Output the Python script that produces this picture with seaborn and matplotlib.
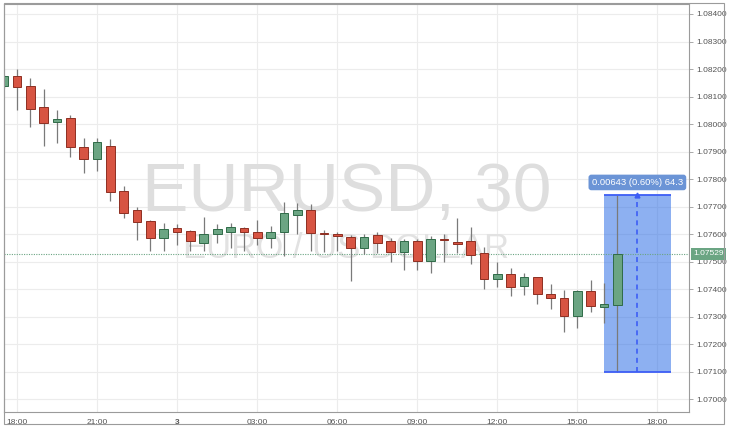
import numpy as np
import pandas as pd
import matplotlib
matplotlib.use("Agg")
import matplotlib.pyplot as plt
import matplotlib.transforms as mtransforms
from matplotlib.patches import Rectangle
import seaborn as sns

# ---------------- data (EURUSD, 30 min) ----------------
first_bar = "2017-01-02 17:30"
bar_minutes = 30
opens = [1.08139, 1.08175, 1.08137, 1.08061, 1.08009, 1.08021, 1.07916, 1.07874, 1.07920, 1.07757,
         1.07688, 1.07647, 1.07587, 1.07621, 1.07611, 1.07567, 1.07601, 1.07607, 1.07623, 1.07607,
         1.07587, 1.07607, 1.07670, 1.07688, 1.07601, 1.07602, 1.07589, 1.07551, 1.07597, 1.07575,
         1.07535, 1.07575, 1.07504, 1.07584, 1.07573, 1.07576, 1.07533, 1.07437, 1.07454, 1.07413,
         1.07443, 1.07383, 1.07367, 1.07303, 1.07394, 1.07335, 1.07343]
highs = [1.08180, 1.08200, 1.08166, 1.08127, 1.08051, 1.08033, 1.07948, 1.07948, 1.07946, 1.07775,
         1.07700, 1.07651, 1.07642, 1.07637, 1.07615, 1.07661, 1.07637, 1.07640, 1.07627, 1.07651,
         1.07630, 1.07716, 1.07712, 1.07710, 1.07615, 1.07609, 1.07597, 1.07600, 1.07609, 1.07585,
         1.07581, 1.07581, 1.07593, 1.07601, 1.07657, 1.07627, 1.07552, 1.07498, 1.07476, 1.07458,
         1.07445, 1.07419, 1.07397, 1.07397, 1.07433, 1.07421, 1.07743]
lows = [1.08130, 1.08051, 1.07990, 1.07920, 1.07930, 1.07881, 1.07821, 1.07830, 1.07721, 1.07660,
        1.07579, 1.07540, 1.07540, 1.07561, 1.07540, 1.07540, 1.07567, 1.07551, 1.07540, 1.07561,
        1.07549, 1.07521, 1.07600, 1.07539, 1.07536, 1.07539, 1.07430, 1.07527, 1.07530, 1.07500,
        1.07470, 1.07470, 1.07460, 1.07500, 1.07530, 1.07491, 1.07400, 1.07409, 1.07376, 1.07379,
        1.07345, 1.07327, 1.07246, 1.07258, 1.07316, 1.07276, 1.07100]
closes = [1.08175, 1.08136, 1.08056, 1.08005, 1.08018, 1.07916, 1.07874, 1.07935, 1.07754, 1.07678,
          1.07643, 1.07587, 1.07618, 1.07608, 1.07576, 1.07601, 1.07618, 1.07627, 1.07609, 1.07587,
          1.07609, 1.07676, 1.07688, 1.07605, 1.07600, 1.07593, 1.07551, 1.07591, 1.07569, 1.07535,
          1.07575, 1.07504, 1.07581, 1.07579, 1.07564, 1.07524, 1.07437, 1.07454, 1.07409, 1.07443,
          1.07381, 1.07369, 1.07303, 1.07394, 1.07339, 1.07346, 1.07529]

tick_times = ["2017-01-02 18:00", "2017-01-02 21:00", "2017-01-03 00:00", "2017-01-03 03:00",
              "2017-01-03 06:00", "2017-01-03 09:00", "2017-01-03 12:00", "2017-01-03 15:00",
              "2017-01-03 18:00"]
tick_labels = ["18:00", "21:00", "3", "03:00", "06:00", "09:00", "12:00", "15:00", "18:00"]
price_ticks = [1.07000, 1.07100, 1.07200, 1.07300, 1.07400, 1.07500, 1.07600, 1.07700,
               1.07800, 1.07900, 1.08000, 1.08100, 1.08200, 1.08300, 1.08400]

range_start = "2017-01-03 16:00"
range_end = "2017-01-03 18:30"
range_low = 1.07100
range_high = 1.07743
range_text = "0.00643 (0.60%) 64.3"
watermark_title = "EURUSD, 30"
watermark_sub = "EURO / US DOLLAR"

# ---------------- helpers ----------------
t0 = pd.Timestamp(first_bar)
def to_x(ts):
    return (pd.Timestamp(ts) - t0) / pd.Timedelta(minutes=bar_minutes)

o = np.array(opens); h = np.array(highs); l = np.array(lows); c = np.array(closes)
x = np.arange(len(o))
last_price = closes[-1]

UP, DOWN = "#6ba583", "#d75442"
UP_EDGE, DOWN_EDGE = "#2f6b48", "#8e2f22"
WICK = "#7a7a7a"
FRAME = "#9b9b9b"

sns.set_style("white")
plt.rcParams["font.family"] = ["Liberation Sans", "DejaVu Sans"]

W, H = 730, 429
fig = plt.figure(figsize=(W / 100, H / 100), dpi=100)
fig.patch.set_facecolor("white")
ax = fig.add_axes([4 / W, (H - 412) / H, (689 - 4) / W, (412 - 4) / H])

# outer frame around chart + axis panels
fig.patches.append(Rectangle((4 / W, 5 / H), 720 / W, 421 / H, transform=fig.transFigure,
                             fill=False, edgecolor=FRAME, lw=0.8, zorder=0))

ax.set_xlim(0.02, 51.37)
ax.set_ylim(1.069538, 1.084363)

# grid
ax.set_axisbelow(True)
ax.grid(True, color="#ececec", lw=0.8)

# watermark
ax.text(0.5, 0.4926, watermark_title, transform=ax.transAxes, ha="center", va="baseline",
        fontsize=50, color="#dedede", zorder=0.8)
ax.text(0.5, 0.377, watermark_sub, transform=ax.transAxes, ha="center", va="baseline",
        fontsize=25, color="#e2e2e2", zorder=0.8)

# price range box
xs, xe = to_x(range_start), to_x(range_end)
ax.add_patch(Rectangle((xs, range_low), xe - xs, range_high - range_low,
                       facecolor="#2f6fe6", alpha=0.55, edgecolor="none", zorder=2))

# last price line
ax.axhline(last_price, color=UP, lw=0.8, ls=(0, (1, 1.2)), zorder=2.2)

# candles
ax.vlines(x, l, h, color=WICK, lw=0.9, zorder=3)
up = c >= o
bottom = np.minimum(o, c)
height = np.maximum(np.abs(c - o), 0.00003)
ax.bar(x[up], height[up], bottom=bottom[up], width=0.65, color=UP, edgecolor=UP_EDGE,
       lw=0.7, zorder=4)
ax.bar(x[~up], height[~up], bottom=bottom[~up], width=0.65, color=DOWN, edgecolor=DOWN_EDGE,
       lw=0.7, zorder=4)

# range box borders and dashed arrow
ax.hlines([range_low, range_high], xs, xe, color="#3d5ef5", lw=1.3, zorder=5)
xm = (xs + xe) / 2
ax.vlines(xm, range_low, range_high, color="#3d5ef5", lw=1.2, ls=(0, (3, 2.5)), zorder=5)
ax.plot([xm], [range_high], marker="^", ms=3.5, color="#3d5ef5", zorder=5)
ax.annotate(range_text, xy=(xm, range_high), xytext=(0, 8.9), textcoords="offset points",
            ha="center", va="center", fontsize=6.8, color="white", zorder=10,
            bbox=dict(boxstyle="round,pad=0.35,rounding_size=0.3", fc="#6b94d6", ec="none"))

# axes styling
for s in ax.spines.values():
    s.set_color(FRAME)
    s.set_linewidth(0.8)
ax.yaxis.tick_right()
ax.set_yticks(price_ticks)
ax.set_yticklabels([f"{p:.5f}" for p in price_ticks])
ax.set_xticks([to_x(t) for t in tick_times])
ax.set_xticklabels(tick_labels)
ax.tick_params(axis="y", length=3, width=0.6, color=FRAME, pad=2, labelsize=6,
               labelcolor="#555555")
ax.tick_params(axis="x", length=3, width=0.6, color=FRAME, pad=2, labelsize=6,
               labelcolor="#555555")
ax.get_xticklabels()[2].set_fontweight("bold")
ax.set_xlabel("")
ax.set_ylabel("")

# last price label on price axis
trans = mtransforms.blended_transform_factory(ax.transAxes, ax.transData)
ax.annotate(f"{last_price:.5f}", xy=(1.0, last_price), xycoords=trans, xytext=(3, 0),
            textcoords="offset points", ha="left", va="center", fontsize=6, color="white",
            annotation_clip=False, zorder=10,
            bbox=dict(boxstyle="square,pad=0.3", fc=UP, ec="none"))

fig.savefig("out.png", dpi=100, facecolor=fig.get_facecolor())
